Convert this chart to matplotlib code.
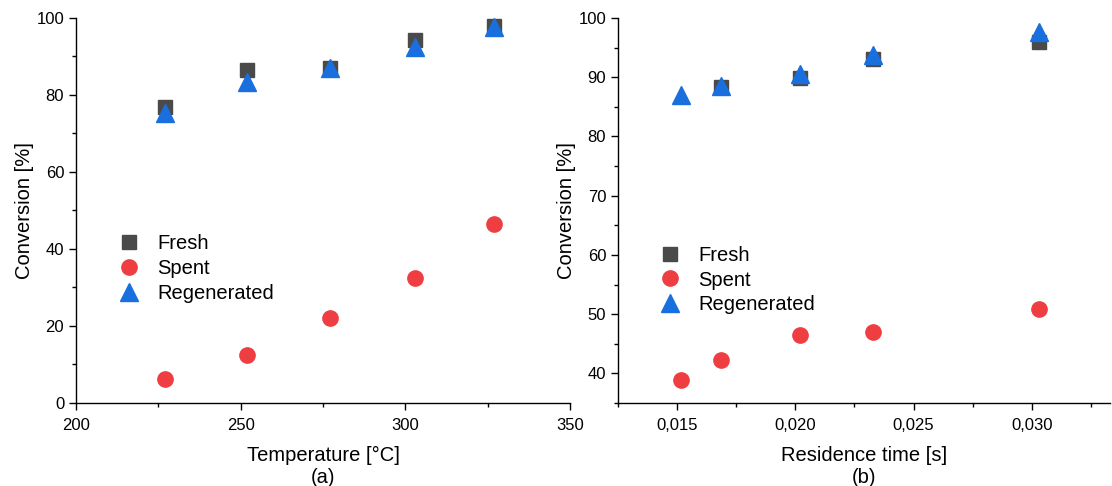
import matplotlib
matplotlib.use("Agg")
import matplotlib.pyplot as plt
from matplotlib.ticker import MultipleLocator, FuncFormatter
import numpy as np

plt.rcParams['font.family'] = ['Liberation Sans', 'DejaVu Sans']

# Panel (a): temperature
temp = [227, 252, 277, 303, 327]
fresh_a = [76.8, 86.6, 87.0, 94.4, 97.8]
spent_a = [6.3, 12.5, 22.0, 32.5, 46.5]
regen_a = [75.2, 83.5, 87.1, 92.5, 97.6]

# Panel (b): residence time
time_fresh = [0.01684, 0.0202, 0.0233, 0.0303]
fresh_b = [88.4, 89.9, 93.1, 95.9]
time_all = [0.01516, 0.01684, 0.0202, 0.0233, 0.0303]
spent_b = [38.9, 42.3, 46.5, 47.0, 50.8]
regen_b = [87.0, 88.5, 90.6, 93.8, 97.7]

labels = ["Fresh", "Spent", "Regenerated"]
c_fresh = "#4a4a4a"
c_spent = "#ef3e42"
c_regen = "#1a6fdf"

fig = plt.figure(figsize=(11.12, 4.86), dpi=100)
ax1 = fig.add_axes([0.0683, 0.1708, 0.4443, 0.7922])
ax2 = fig.add_axes([0.5558, 0.1708, 0.4422, 0.7922])

def draw(ax, xf, f, xs, s, xr, r):
    ax.plot(xf, f, ls='none', marker='s', ms=10, color=c_fresh, label=labels[0])
    ax.plot(xs, s, ls='none', marker='o', ms=11, color=c_spent, label=labels[1])
    ax.plot(xr, r, ls='none', marker='^', ms=13, color=c_regen, label=labels[2])
    for side in ['top', 'right']:
        ax.spines[side].set_visible(False)
    for side in ['left', 'bottom']:
        ax.spines[side].set_linewidth(1.0)
        ax.spines[side].set_color('black')
    ax.tick_params(which='major', direction='out', length=5, width=1, labelsize=12)
    ax.tick_params(axis='x', which='major', pad=6)
    ax.tick_params(which='minor', direction='out', length=3, width=1)
    ax.set_ylabel("Conversion [%]", fontsize=14.5, labelpad=2)

def legend(ax, x, y, sp):
    ax.legend(loc='upper left', bbox_to_anchor=(x, y), frameon=False, fontsize=14.5,
              handletextpad=0.9, labelspacing=sp, borderaxespad=0, borderpad=0,
              handlelength=1.0)

draw(ax1, temp, fresh_a, temp, spent_a, temp, regen_a)
ax1.set_xlim(200, 350)
ax1.set_ylim(0, 100)
ax1.xaxis.set_major_locator(MultipleLocator(50))
ax1.xaxis.set_minor_locator(MultipleLocator(25))
ax1.yaxis.set_major_locator(MultipleLocator(20))
ax1.yaxis.set_minor_locator(MultipleLocator(10))
ax1.set_xlabel("Temperature [°C]\n(a)", fontsize=14.5, linespacing=1.2, labelpad=9)
legend(ax1, 0.0877, 0.438, 0.3)

draw(ax2, time_fresh, fresh_b, time_all, spent_b, time_all, regen_b)
ax2.set_xlim(0.0125, 0.0333)
ax2.set_ylim(35, 100)
ax2.xaxis.set_major_locator(MultipleLocator(0.005))
ax2.xaxis.set_minor_locator(MultipleLocator(0.0025))
ax2.xaxis.set_major_formatter(FuncFormatter(lambda v, p: f"{v:.3f}".replace('.', ',')))
ax2.yaxis.set_major_locator(MultipleLocator(10))
ax2.yaxis.set_minor_locator(MultipleLocator(5))
ax2.set_xlabel("Residence time [s]\n(b)", fontsize=14.5, linespacing=1.2, labelpad=9)
legend(ax2, 0.086, 0.408, 0.28)

fig.savefig("out.png", dpi=100)
